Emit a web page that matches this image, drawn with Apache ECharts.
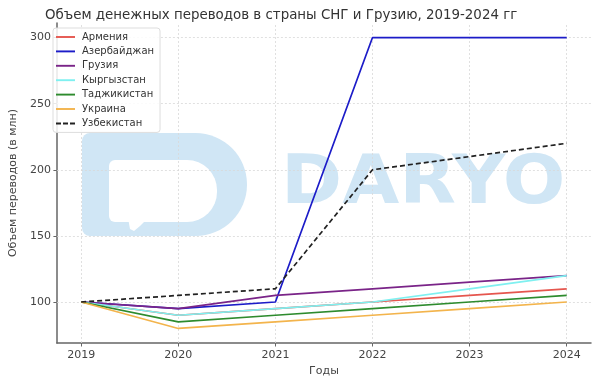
<!DOCTYPE html>
<html><head><meta charset="utf-8">
<script src="https://cdn.jsdelivr.net/npm/echarts@6/dist/echarts.min.js"></script>
<style>html,body{margin:0;padding:0;background:#fff}#c{width:600px;height:382px}</style>
</head><body><div id="c"></div>
<script>
const years = [2019, 2020, 2021, 2022, 2023, 2024];
const yTicks = [100, 150, 200, 250, 300];
const armenia = [100, 90, 95, 100, 105, 110];
const azerbaijan = [100, 95, 100, 300, 300, 300];
const georgia = [100, 95, 105, 110, 115, 120];
const kyrgyzstan = [100, 90, 95, 100, 110, 120];
const tajikistan = [100, 85, 90, 95, 100, 105];
const ukraine = [100, 80, 85, 90, 95, 100];
const uzbekistan = [100, 105, 110, 200, 210, 220];
const names = ['Армения','Азербайджан','Грузия','Кыргызстан','Таджикистан','Украина','Узбекистан'];
const values = [armenia, azerbaijan, georgia, kyrgyzstan, tajikistan, ukraine, uzbekistan];
const colors = ['#e5564e','#1c1cc8','#7a2488','#7ff0f0','#2e8b2e','#f3b44c','#222222'];

const F = 'DejaVu Sans, sans-serif';
const chart = echarts.init(document.getElementById('c'), null, {renderer:'canvas'});
const series = names.map((n,i)=>({
  name:n, type:'line', symbol:'none', smooth:false,
  data: years.map((y,j)=>[y, values[i][j]]),
  lineStyle:{color:colors[i], width:1.7, type: i===6 ? [5,3] : 'solid'},
  itemStyle:{color:colors[i]},
  z: 3 + i
}));
const wm = '#d0e6f5';
chart.setOption({
  animation:false,
  backgroundColor:'#fff',
  title:{text:'Объем денежных переводов в страны СНГ и Грузию, 2019-2024 гг', left:40, top:4,
    textStyle:{fontFamily:F, fontSize:13.4, fontWeight:'normal', color:'#333'}},
  graphic:[
    {type:'rect', z:-10, shape:{x:82,y:133,width:165,height:103,r:[8,52,52,8]}, style:{fill:wm}},
    {type:'rect', z:-9, shape:{x:109,y:160,width:108,height:62,r:[6,30,30,6]}, style:{fill:'#fff'}},
    {type:'polygon', z:-9, shape:{points:[[128,218],[148,218],[140,226],[134,231],[130,229]]}, style:{fill:'#fff'}},
    {type:'text', z:-10, x:281, y:186, scaleX:1.1, style:{text:'DARYO', fill:wm, font:'bold 67px DejaVu Sans', textVerticalAlign:'middle'}}
  ],
  legend:{
    orient:'vertical', left:53, top:28, itemWidth:19, itemHeight:2, itemGap:4.4,
    padding:[4,6,4,3],
    backgroundColor:'rgba(255,255,255,0.85)', borderColor:'#ddd', borderWidth:1, borderRadius:3,
    icon:'path://M0,0 L20,0 L20,2 L0,2 Z',
    data: names.map((n,i)=> i===6 ? {name:n, icon:'path://M0,0 L5,0 L5,2 L0,2 Z M7,0 L12,0 L12,2 L7,2 Z M14,0 L19,0 L19,2 L14,2 Z'} : {name:n}),
    textStyle:{fontFamily:F, fontSize:10, color:'#333', padding:[0,0,0,2]}
  },
  grid:{left:49, right:9, top:23, bottom:37},
  xAxis:{type:'value', min:2018.75, max:2024.25,
    name:'Годы', nameLocation:'middle', nameGap:23,
    nameTextStyle:{fontFamily:F, fontSize:11, color:'#444'},
    axisLine:{show:true, lineStyle:{color:'#666', width:1.5}},
    axisTick:{show:true, customValues:years, length:3.5, lineStyle:{color:'#666'}},
    axisLabel:{customValues:years, fontFamily:F, fontSize:11, color:'#444', margin:7, formatter:v=>String(v)},
    splitLine:{show:false}},
  yAxis:{type:'value', min:69, max:311,
    name:'Объем переводов (в млн)', nameLocation:'middle', nameGap:34, nameRotate:90,
    nameTextStyle:{fontFamily:F, fontSize:11, color:'#444'},
    axisLine:{show:true, lineStyle:{color:'#666', width:1.5}},
    axisTick:{show:true, customValues:yTicks, length:3.5, lineStyle:{color:'#666'}},
    axisLabel:{customValues:yTicks, fontFamily:F, fontSize:11, color:'#444', margin:6},
    splitLine:{show:false}},
  series: series.concat([{
    type:'line', data:[], silent:true, z:1,
    markLine:{silent:true, z:1, symbol:'none', label:{show:false},
      lineStyle:{color:'#d8d8d8', type:[2,2], width:0.8},
      data: years.map(y=>({xAxis:y})).concat(yTicks.map(v=>({yAxis:v})))}
  }])
});
</script></body></html>
